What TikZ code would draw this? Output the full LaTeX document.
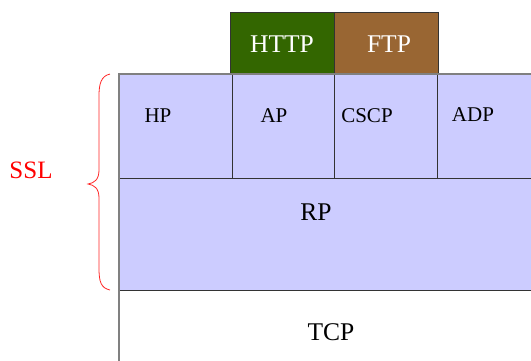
\documentclass[tikz,border=0pt]{standalone}
\usepackage{fontspec}
\setmainfont{Liberation Serif}
\begin{document}
\begin{tikzpicture}[x=1pt,y=-1pt,
  layer/.style={draw=black!80, line width=0.8pt},
  lbl/.style={font=\fontsize{21}{21}\selectfont, text=black},
  big/.style={font=\fontsize{25.5}{25.5}\selectfont, text=black},
  proto/.style={font=\fontsize{25.5}{25.5}\selectfont, text=white}]
\useasboundingbox (0,0) rectangle (531,360);
\definecolor{lav}{HTML}{CCCCFF}
\definecolor{httpg}{HTML}{336600}
\definecolor{ftpb}{HTML}{996633}
\definecolor{edge}{HTML}{808080}
% application protocols on top
\fill[httpg] (230,12) rectangle (334,74);
\fill[ftpb] (334,12) rectangle (438,74);
\draw[layer] (230,74) -- (230,12) -- (438,12) -- (438,74);
\draw[layer] (334,12) -- (334,74);
\node[proto] (http) at (282,44) {HTTP};
\node[proto] (ftp) at (389,44) {FTP};
% SSL sub-protocol layer and record layer
\fill[lav] (119,74) rectangle (532,290);
\draw[layer] (232,74) -- (232,178);
\draw[layer] (334,74) -- (334,178);
\draw[layer] (437,74) -- (437,178);
\draw[layer] (119,178) -- (532,178);
\draw[layer] (119,290) -- (532,290);
\draw[draw=edge, line width=1.6pt] (119,361) -- (119,74) -- (532,74);
\node[lbl] (hp) at (158,116) {HP};
\node[lbl] (ap) at (274,116) {AP};
\node[lbl] (cscp) at (367,116) {CSCP};
\node[lbl] (adp) at (473,115) {ADP};
\node[big] (rp) at (316,212) {RP};
\node[big] (tcp) at (331,332) {TCP};
% brace spanning the SSL layers
\draw[red!85!white, line width=0.8pt]
  (110,74) .. controls (101,76) and (99,84) .. (99,96)
  -- (99,170) .. controls (99,180) and (94,183) .. (88,184)
  .. controls (94,185) and (99,188) .. (99,198)
  -- (99,268) .. controls (99,282) and (101,288) .. (110,290);
\node[font=\fontsize{25}{25}\selectfont, text=red] (ssl) at (31,170) {SSL};
\end{tikzpicture}
\end{document}
